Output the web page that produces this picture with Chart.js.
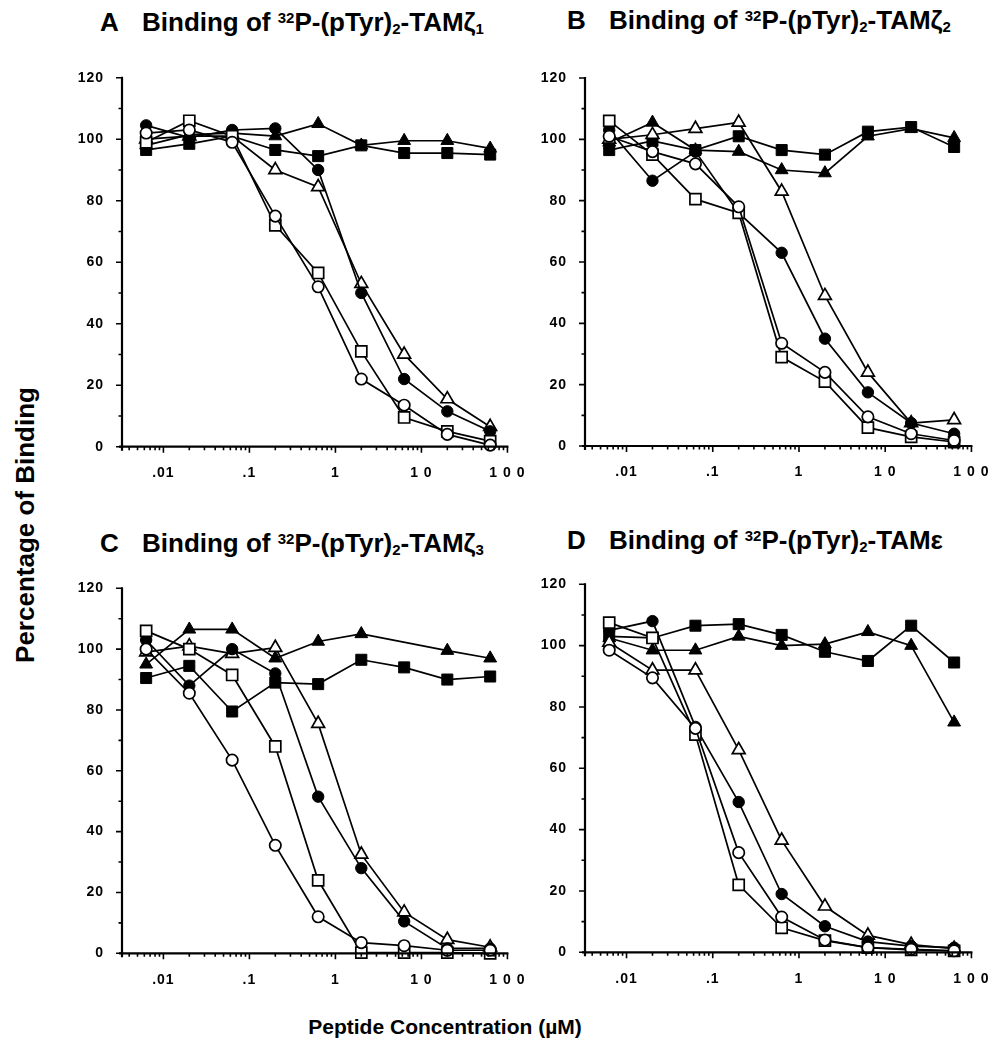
<!DOCTYPE html>
<html>
<head>
<meta charset="utf-8">
<script src="https://cdn.jsdelivr.net/npm/chart.js@4.4.1/dist/chart.umd.min.js"></script>
<style>
  html, body { margin: 0; padding: 0; background: #fff; }
  body { width: 990px; height: 1046px; position: relative; overflow: hidden;
         font-family: "Liberation Sans", Arial, Helvetica, sans-serif; font-weight: bold; color: #000; }
  canvas { position: absolute; }
  .ttl { position: absolute; font-size: 26px; line-height: 26px; white-space: nowrap; }
  .ttl .txt { position: absolute; left: 42px; top: 0; }
  .ttl sup { font-size: 15px; vertical-align: 8px; line-height: 0; }
  .ttl sub { font-size: 15px; vertical-align: -3px; line-height: 0; }
  #ytitle { position: absolute; font-size: 26px; white-space: nowrap; left: 25px; top: 525px;
            transform: translate(-50%, -50%) rotate(-90deg); }
  #xtitle { position: absolute; font-size: 21px; white-space: nowrap; left: 445px; top: 1027px;
            transform: translate(-50%, -50%); }
</style>
</head>
<body>
<div class="ttl" style="left:100px; top:9px;">A<span class="txt">Binding of <sup>32</sup>P-(pTyr)<sub>2</sub>-TAMζ<sub>1</sub></span></div>
<div class="ttl" style="left:567px; top:7px;">B<span class="txt">Binding of <sup>32</sup>P-(pTyr)<sub>2</sub>-TAMζ<sub>2</sub></span></div>
<div class="ttl" style="left:100px; top:530px;">C<span class="txt">Binding of <sup>32</sup>P-(pTyr)<sub>2</sub>-TAMζ<sub>3</sub></span></div>
<div class="ttl" style="left:567px; top:527px;">D<span class="txt">Binding of <sup>32</sup>P-(pTyr)<sub>2</sub>-TAMε</span></div>
<div id="ytitle">Percentage of Binding</div>
<div id="xtitle">Peptide Concentration (µM)</div>

<canvas id="cA"></canvas>
<canvas id="cB"></canvas>
<canvas id="cC"></canvas>
<canvas id="cD"></canvas>

<script>
// ---------------- data ----------------
const concentrations = [0.0063, 0.02, 0.063, 0.2, 0.63, 2, 6.3, 20, 63];

const xTickValues = [0.01, 0.1, 1, 10, 100];
const xTickLabels = ['.01', '.1', '1', '1 0', '1 0 0'];
const yTickValues = [0, 20, 40, 60, 80, 100, 120];

// Panel A
const aOpenCircle    = [102, 103, 99, 75, 52, 22, 13.5, 4, 0.5];
const aOpenSquare    = [99, 106, 101, 72, 56.5, 31, 9.5, 5, 1.8];
const aFilledCircle  = [104.5, 100.5, 103, 103.5, 90, 50, 22, 11.5, 5];
const aOpenTriangle  = [100, 101, 101, 90, 84.5, 53, 30, 15.5, 6.5];
const aFilledTriangle= [98, 101.5, 102, 101, 105, 98, 99.5, 99.5, 97];
const aFilledSquare  = [96.5, 98.5, 101, 96.5, 94.5, 98, 95.5, 95.5, 95];

// Panel B
const bOpenCircle    = [101, 96, 92, 78, 33.5, 24, 9.5, 4, 1.8];
const bOpenSquare    = [106, 95, 80.5, 76, 29, 21, 6, 3, 1.3];
const bFilledCircle  = [103, 86.5, 96, 76, 63, 35, 17.5, 7.5, 4];
const bOpenTriangle  = [100, 101.5, 103.5, 105.5, 83, 49, 24, 7.5, 8.5];
const bFilledTriangle= [99, 105.5, 96.5, 96, 90, 89, 101, 103.5, 100.5];
const bFilledSquare  = [96.5, 99.5, 96.5, 101, 96.5, 95, 102.5, 104, 97.5];

// Panel C
const cOpenCircle    = [100, 85.5, 63.5, 35.5, 12, 3.5, 2.5, 1, 1];
const cOpenSquare    = [106, 100, 91.5, 68, 24, 0.2, 0.2, 0.2, 0];
const cFilledCircle  = [103, 88, 100, 92, 51.5, 28, 10.5, 1.6, 1.6];
const cOpenTriangle  = [99, 101, 98.5, 100.5, 75.5, 32.5, 13.5, 4.5, 2];
const cFilledTriangle= [95, 106.5, 106.5, 97, 102.5, 105, null, 99.5, 97];
const cFilledSquare  = [90.5, 94.5, 79.5, 89, 88.5, 96.5, 94, 90, 91];

// Panel D
const dOpenCircle    = [98.5, 89.5, 73, 32.5, 11.5, 4, 1.5, 1, 0.5];
const dOpenSquare    = [107.5, 102.5, 71, 22, 8, 3.8, 1.5, 0.8, 0.5];
const dFilledCircle  = [105, 108, 73.5, 49, 19, 8.5, 3.5, 2, 1.5];
const dOpenTriangle  = [101, 92, 92, 66, 36.5, 15, 5.5, 2.5, 1.2];
const dFilledTriangle= [102.5, 98.5, 98.5, 103, 100, 100.5, 104.5, 100, 75];
const dFilledSquare  = [103, 102.5, 106.5, 107, 103.5, 98, 95, 106.5, 94.5];

// ---------------- rendering ----------------
const X_MIN = 0.0033, X_MAX = 100;
const PAD_L = 95, PAD_T = 30, PAD_R = 25, PAD_B = 45;

function markerStyle(kind) {
  const open = kind.startsWith('open');
  const shape = kind.endsWith('Circle') ? 'circle' : kind.endsWith('Square') ? 'rect' : 'triangle';
  const r = shape === 'circle' ? 5.7 : shape === 'rect' ? 7.8 : 7.4;
  return {
    pointStyle: shape,
    pointRadius: r,
    pointHoverRadius: r,
    pointBackgroundColor: open ? '#ffffff' : '#000000',
    pointBorderColor: '#000000',
    pointBorderWidth: open ? 1.7 : 1,
  };
}

const paperAxes = {
  id: 'paperAxes',
  beforeDraw(chart) { chart.ctx.letterSpacing = '1px'; },
  afterDraw(chart) {
    const ctx = chart.ctx, xs = chart.scales.x, ys = chart.scales.y, a = chart.chartArea;
    ctx.save();
    ctx.letterSpacing = '0px';
    ctx.strokeStyle = '#000';
    ctx.lineWidth = 2.2;
    ctx.beginPath();
    ctx.moveTo(a.left, a.top - 1); ctx.lineTo(a.left, a.bottom + 4);
    ctx.moveTo(a.left - 3, a.bottom); ctx.lineTo(a.right + 1, a.bottom);
    ctx.stroke();
    ctx.lineWidth = 1.6;
    ctx.beginPath();
    for (let v = 0; v <= 120; v += 10) {
      const p = ys.getPixelForValue(v);
      const len = (v % 20 === 0) ? 6 : 3.5;
      ctx.moveTo(a.left, p); ctx.lineTo(a.left - len, p);
    }
    for (let e = -3; e <= 2; e++) {
      for (let m = 1; m <= 9; m++) {
        const v = m * Math.pow(10, e);
        if (v < X_MIN || v > X_MAX * 1.0001) continue;
        const p = xs.getPixelForValue(v);
        const len = m === 1 ? 6 : 3.5;
        ctx.moveTo(p, a.bottom); ctx.lineTo(p, a.bottom + len);
      }
    }
    ctx.stroke();
    ctx.restore();
    chart.ctx.letterSpacing = '0px';
  }
};

function makePanel(id, area, series) {
  const cv = document.getElementById(id);
  const cLeft = area.L - PAD_L;
  const cTop = Math.round(area.T) - PAD_T;
  const w = (area.R - area.L) + PAD_L + PAD_R;
  const h = Math.round(area.B) - cTop + PAD_B;
  cv.style.left = cLeft + 'px';
  cv.style.top = cTop + 'px';
  cv.width = w; cv.height = h;
  cv.style.width = w + 'px'; cv.style.height = h + 'px';
  const xAxisH = h - (area.B - cTop);

  const datasets = series.map(([kind, vals]) => Object.assign({
    label: kind,
    data: concentrations.map((c, i) => ({ x: c, y: vals[i] })),
    borderColor: '#000',
    borderWidth: 1.7,
    tension: 0,
    spanGaps: true,
    clip: false,
    fill: false,
  }, markerStyle(kind)));

  return new Chart(cv, {
    type: 'line',
    data: { datasets },
    options: {
      responsive: false,
      animation: false,
      devicePixelRatio: 1,
      layout: { padding: { left: 0, top: area.T - cTop, right: PAD_R, bottom: 0 } },
      plugins: { legend: { display: false }, tooltip: { enabled: false }, title: { display: false } },
      events: [],
      scales: {
        x: {
          type: 'logarithmic',
          position: 'bottom',
          min: X_MIN, max: X_MAX,
          bounds: 'data',
          grid: { display: false },
          border: { display: false },
          afterBuildTicks: (s) => { s.ticks = xTickValues.map(v => ({ value: v })); },
          afterFit: (s) => { s.height = xAxisH; },
          ticks: {
            autoSkip: false, maxRotation: 0, minRotation: 0, padding: 10,
            color: '#000',
            font: { family: '"Liberation Sans", Arial, sans-serif', size: 14, weight: 'bold' },
            callback: (v) => { const i = xTickValues.findIndex(t => Math.abs(t - v) / t < 1e-6); return i >= 0 ? xTickLabels[i] : ''; }
          }
        },
        y: {
          type: 'linear',
          position: 'left',
          min: 0, max: 120,
          grid: { display: false },
          border: { display: false },
          afterBuildTicks: (s) => { s.ticks = yTickValues.map(v => ({ value: v })); },
          afterFit: (s) => { s.width = PAD_L; },
          ticks: {
            autoSkip: false, padding: 10,
            color: '#000',
            font: { family: '"Liberation Sans", Arial, sans-serif', size: 14, weight: 'bold' },
          }
        }
      }
    },
    plugins: [paperAxes]
  });
}

makePanel('cA', { L: 122, R: 508, T: 77.7, B: 446.7 }, [
  ['openCircle', aOpenCircle], ['openSquare', aOpenSquare], ['filledCircle', aFilledCircle],
  ['openTriangle', aOpenTriangle], ['filledTriangle', aFilledTriangle], ['filledSquare', aFilledSquare]]);
makePanel('cB', { L: 585, R: 972, T: 78, B: 446 }, [
  ['openCircle', bOpenCircle], ['openSquare', bOpenSquare], ['filledCircle', bFilledCircle],
  ['openTriangle', bOpenTriangle], ['filledTriangle', bFilledTriangle], ['filledSquare', bFilledSquare]]);
makePanel('cC', { L: 122, R: 508, T: 588.3, B: 953.3 }, [
  ['openCircle', cOpenCircle], ['openSquare', cOpenSquare], ['filledCircle', cFilledCircle],
  ['openTriangle', cOpenTriangle], ['filledTriangle', cFilledTriangle], ['filledSquare', cFilledSquare]]);
makePanel('cD', { L: 585, R: 972, T: 584.3, B: 952.3 }, [
  ['openCircle', dOpenCircle], ['openSquare', dOpenSquare], ['filledCircle', dFilledCircle],
  ['openTriangle', dOpenTriangle], ['filledTriangle', dFilledTriangle], ['filledSquare', dFilledSquare]]);
</script>
</body>
</html>
